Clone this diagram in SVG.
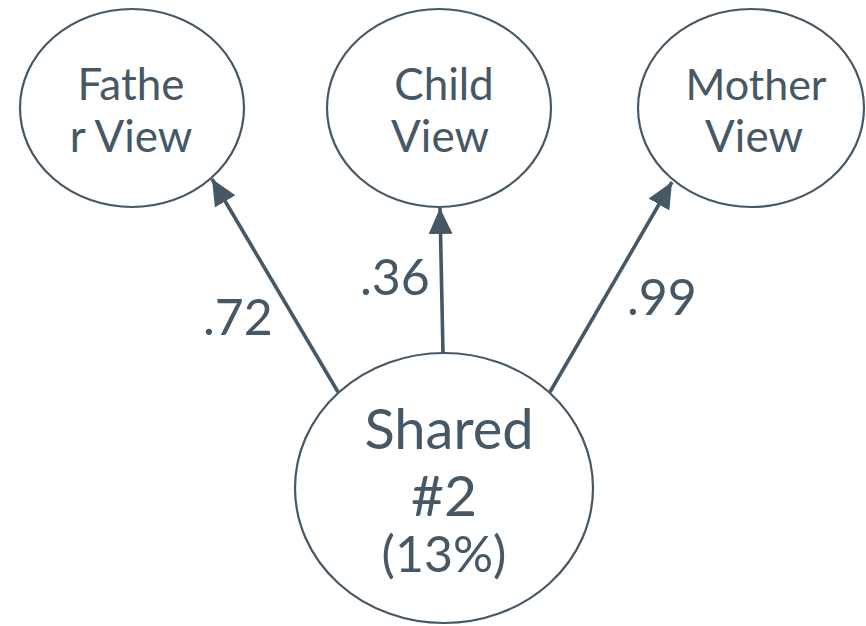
<svg xmlns="http://www.w3.org/2000/svg" width="866" height="626" viewBox="0 0 866 626">
  <style>
    .node { fill: #ffffff; stroke: #465866; stroke-width: 2.2; }
    .lbl { font-family: Lato, "Liberation Sans", sans-serif; fill: #465866; text-anchor: middle; }
    .edge { stroke: #465866; stroke-width: 3.6; fill: none; marker-end: url(#head); }
    .w { font-family: Lato, "Liberation Sans", sans-serif; fill: #465866; font-size: 50px; }
  </style>
  <defs>
    <marker id="head" markerUnits="userSpaceOnUse" viewBox="0 0 26 24" refX="26" refY="12" markerWidth="26" markerHeight="24" orient="auto">
      <path d="M0,0 L26,12 L0,24 Z" fill="#465866"/>
    </marker>
  </defs>
  <rect width="866" height="626" fill="#ffffff"/>

  <g id="father">
    <ellipse class="node" cx="132" cy="108" rx="112" ry="99"/>
    <text class="lbl" x="131" y="100" font-size="44">Fathe</text>
    <text class="lbl" x="131" y="152" font-size="44">r View</text>
  </g>
  <g id="child">
    <ellipse class="node" cx="439" cy="108" rx="112" ry="99"/>
    <text class="lbl" x="444" y="100" font-size="44">Child</text>
    <text class="lbl" x="440" y="152" font-size="44">View</text>
  </g>
  <g id="mother">
    <ellipse class="node" cx="751" cy="108" rx="113" ry="99"/>
    <text class="lbl" x="756" y="100" font-size="43">Mother</text>
    <text class="lbl" x="754" y="152" font-size="44">View</text>
  </g>
  <g id="shared">
    <ellipse class="node" cx="444" cy="488" rx="149" ry="135"/>
    <text class="lbl" x="449" y="449" font-size="56">Shared</text>
    <text class="lbl" x="444" y="516" font-size="57">#2</text>
    <text class="lbl" x="444" y="572" font-size="50">(13%)</text>
  </g>

  <g id="connectors">
    <line class="edge" x1="338" y1="392" x2="212" y2="179"/>
    <line class="edge" x1="443" y1="353" x2="440" y2="208"/>
    <line class="edge" x1="550" y1="392" x2="672" y2="182"/>
    <text class="w" x="203" y="335">.72</text>
    <text class="w" x="360" y="295">.36</text>
    <text class="w" x="627" y="315">.99</text>
  </g>
</svg>
